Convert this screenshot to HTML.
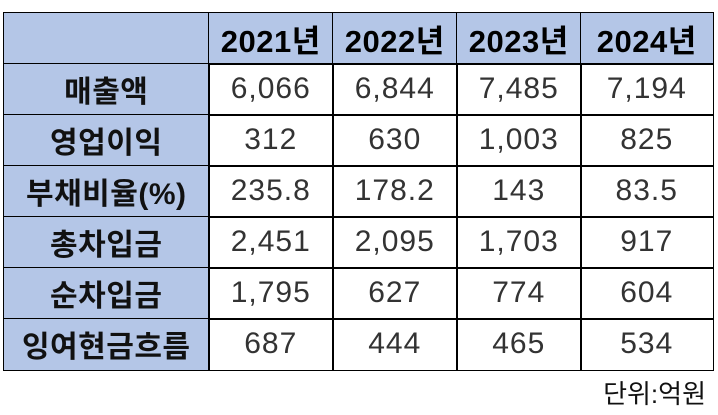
<!DOCTYPE html>
<html><head><meta charset="utf-8"><style>
body{margin:0;width:718px;height:415px;background:#fff;position:relative;overflow:hidden;font-family:"Liberation Sans","Noto Sans CJK KR",sans-serif}
.c{position:absolute;box-sizing:border-box;border:1.5px solid #000;display:flex;align-items:center;justify-content:center;font-size:30px;color:#333;letter-spacing:1px}
.h{background:#b4c6e7;font-weight:bold;color:#000;font-size:31px;letter-spacing:0.5px}
.l{background:#b4c6e7;font-weight:bold;color:#111;font-size:30px;letter-spacing:0.5px}
#unit{position:absolute;right:12px;top:374px;font-size:26px;color:#111}
</style></head><body>
<div id="t"></div>
<div id="unit">단위:억원</div>
<script>
const years=["2021년","2022년","2023년","2024년"];
const rowLabels=["매출액","영업이익","부채비율(%)","총차입금","순차입금","잉여현금흐름"];
const values=[["6,066","6,844","7,485","7,194"],["312","630","1,003","825"],["235.8","178.2","143","83.5"],["2,451","2,095","1,703","917"],["1,795","627","774","604"],["687","444","465","534"]];
const xs=[3,208,332,456,580,712];
const ys=[12,63,114,165,216,267,318,369];
const t=document.getElementById('t');
function cell(x0,x1,y0,y1,txt,cls){
 const d=document.createElement('div');
 d.className='c '+cls;
 d.style.left=x0+'px';d.style.top=y0+'px';
 d.style.width=(x1-x0+1.5)+'px';d.style.height=(y1-y0+1.5)+'px';
 d.textContent=txt;
 t.appendChild(d);return d;
}
let d=cell(xs[0],xs[1],ys[0],ys[1],'','h');


years.forEach((y,i)=>{
 const e=cell(xs[i+1],xs[i+2],ys[0],ys[1],y,'h');
 
 
});
rowLabels.forEach((r,j)=>{
 const e=cell(xs[0],xs[1],ys[j+1],ys[j+2],r,'l');
 
 
 values[j].forEach((v,i)=>{
  const f=cell(xs[i+1],xs[i+2],ys[j+1],ys[j+2],v,'');
  
  
 });
});
</script>
</body></html>
